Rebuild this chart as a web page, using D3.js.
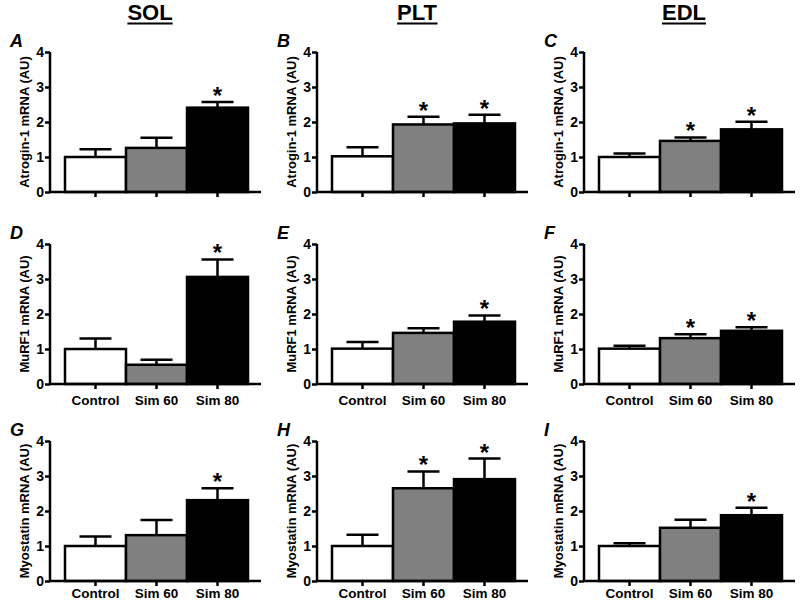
<!DOCTYPE html>
<html>
<head>
<meta charset="utf-8">
<script src="https://cdn.jsdelivr.net/npm/d3@7"></script>
<style>
body{margin:0;background:#fff}
text{font-family:"Liberation Sans",Arial,sans-serif;font-weight:bold}
</style>
</head>
<body>
<div id="chart"></div>
<script>
var groups = ["Control","Sim 60","Sim 80"]
var muscles = ["SOL","PLT","EDL"]
var genes = ["Atrogin-1 mRNA (AU)","MuRF1 mRNA (AU)","Myostatin mRNA (AU)"]
var letters = ["A","B","C","D","E","F","G","H","I"]
var yTicks = [0,1,2,3,4]

// mean and upper error per panel, row by row (A..I)
var means = [
	[1.00,1.26,2.41],[1.02,1.93,1.96],[1.00,1.46,1.79],
	[1.00,0.55,3.06],[1.01,1.46,1.78],[1.01,1.31,1.52],
	[1.00,1.31,2.31],[1.00,2.65,2.91],[1.00,1.52,1.88]
]
var errs = [
	[1.22,1.55,2.57],[1.28,2.15,2.21],[1.10,1.56,2.01],
	[1.30,0.69,3.56],[1.20,1.59,1.96],[1.09,1.42,1.62],
	[1.27,1.74,2.65],[1.32,3.13,3.50],[1.08,1.75,2.09]
]
var stars = [
	[0,0,1],[0,1,1],[0,1,1],
	[0,0,1],[0,0,1],[0,1,1],
	[0,0,1],[0,1,1],[0,0,1]
]
var fills = ["#ffffff","#808080","#000000"]

var W = 800, H = 601
var svg = d3.select("#chart").append("svg").attr("width",W).attr("height",H)

var colX = [50,317,584]
var rowBase = [192,384,581]
var labelPad = [6,6,2]
var plotH = 140

muscles.forEach(function(m,c){
	var t = svg.append("text")
		.attr("x",colX[c]+100).attr("y",20)
		.attr("text-anchor","middle")
		.style("font-size","22px")
		.text(m)
	var bb = t.node().getBBox()
	svg.append("line")
		.attr("x1",bb.x).attr("x2",bb.x+bb.width)
		.attr("y1",23.5).attr("y2",23.5)
		.attr("stroke","#000").attr("stroke-width",2)
})

letters.forEach(function(L,i){
	var r = Math.floor(i/3), c = i%3
	var ox = colX[c], oy = rowBase[r]
	var g = svg.append("g")

	var y = d3.scaleLinear().domain([0,4]).range([oy,oy-plotH])
	var x = d3.scaleBand().domain(groups).range([ox+15,ox+198]).padding(0)

	// bars
	g.selectAll(".bar").data(groups).enter().append("rect")
		.attr("x",function(d){return x(d)})
		.attr("y",function(d,j){return y(means[i][j])})
		.attr("width",x.bandwidth())
		.attr("height",function(d,j){return oy-y(means[i][j])})
		.attr("fill",function(d,j){return fills[j]})
		.attr("stroke","#000").attr("stroke-width",2.5)

	// error bars
	groups.forEach(function(d,j){
		var cx = x(d)+x.bandwidth()/2
		g.append("line").attr("x1",cx).attr("x2",cx)
			.attr("y1",y(means[i][j])).attr("y2",y(errs[i][j]))
			.attr("stroke","#000").attr("stroke-width",2.5)
		g.append("line").attr("x1",cx-16).attr("x2",cx+16)
			.attr("y1",y(errs[i][j])).attr("y2",y(errs[i][j]))
			.attr("stroke","#000").attr("stroke-width",2.5)
		if(stars[i][j]){
			g.append("text").attr("x",cx).attr("y",y(errs[i][j])+2)
				.attr("text-anchor","middle").style("font-size","24px")
				.text("*")
		}
	})

	// y axis
	var ya = g.append("g").attr("transform","translate("+ox+",0)")
		.call(d3.axisLeft(y).tickValues(yTicks).tickSize(5).tickPadding(1).tickFormat(d3.format("d")))
	ya.select(".domain").attr("stroke-width",2.5).attr("d","M0,"+(oy-plotH)+"V"+oy)
	ya.selectAll(".tick line").attr("stroke-width",2.5)
	ya.selectAll(".tick text").style("font-size","14px").attr("fill","#000")

	// x axis
	var xa = g.append("g").attr("transform","translate(0,"+oy+")")
		.call(d3.axisBottom(x).tickSize(5).tickPadding(labelPad[r]))
	xa.select(".domain").attr("stroke-width",2.5).attr("d","M"+ox+",0H"+(ox+211))
	xa.selectAll(".tick line").attr("stroke-width",2.5)
	xa.selectAll(".tick text").style("font-size","13.5px").attr("fill","#000")
	if(r==0) xa.selectAll(".tick text").remove()

	// y label
	g.append("text")
		.attr("transform","translate("+(ox-26)+","+(oy-plotH/2)+") rotate(-90)")
		.attr("text-anchor","middle").attr("dy","0.35em")
		.style("font-size","13px")
		.text(genes[r])

	// panel letter
	g.append("text").attr("x",ox-40).attr("y",oy-plotH-5)
		.style("font-size","18px").style("font-style","italic")
		.text(L)
})
</script>
</body>
</html>
